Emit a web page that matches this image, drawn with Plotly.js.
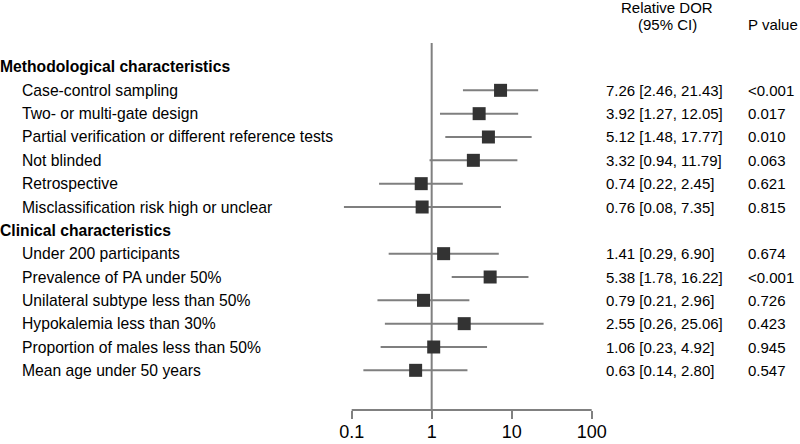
<!DOCTYPE html>
<html>
<head>
<meta charset="utf-8">
<script src="https://cdn.plot.ly/plotly-3.0.1.min.js"></script>
<style>html,body{margin:0;padding:0;background:#fff}#chart{width:800px;height:444px}</style>
</head>
<body>
<div id="chart"></div>
<script>
var groupNames = ["Methodological characteristics", "Clinical characteristics"];
var methodLabels = ["Case-control sampling", "Two- or multi-gate design", "Partial verification or different reference tests", "Not blinded", "Retrospective", "Misclassification risk high or unclear"];
var clinicalLabels = ["Under 200 participants", "Prevalence of PA under 50%", "Unilateral subtype less than 50%", "Hypokalemia less than 30%", "Proportion of males less than 50%", "Mean age under 50 years"];
var methodEst = [7.26, 3.92, 5.12, 3.32, 0.74, 0.76];
var methodLo = [2.46, 1.27, 1.48, 0.94, 0.22, 0.08];
var methodHi = [21.43, 12.05, 17.77, 11.79, 2.45, 7.35];
var methodP = ["<0.001", "0.017", "0.010", "0.063", "0.621", "0.815"];
var clinicalEst = [1.41, 5.38, 0.79, 2.55, 1.06, 0.63];
var clinicalLo = [0.29, 1.78, 0.21, 0.26, 0.23, 0.14];
var clinicalHi = [6.90, 16.22, 2.96, 25.06, 4.92, 2.80];
var clinicalP = ["0.674", "<0.001", "0.726", "0.423", "0.945", "0.547"];
var tickVals = [0.1, 1, 10, 100];
var tickLabels = ["0.1", "1", "10", "100"];

var groups = [
  {name: groupNames[0], labels: methodLabels, est: methodEst, lo: methodLo, hi: methodHi, p: methodP},
  {name: groupNames[1], labels: clinicalLabels, est: clinicalEst, lo: clinicalLo, hi: clinicalHi, p: clinicalP}
];

var FONT = "Liberation Sans, Arial, sans-serif";
var px = function(v){ return v / 800; };
var xs = [], ys = [], eplus = [], eminus = [];
var annotations = [];
var row = 0;
groups.forEach(function(g){
  annotations.push({xref:'paper', yref:'y', x:px(-2), y:row, xanchor:'left', yanchor:'middle', showarrow:false,
    text:'<b>'+g.name+'</b>', font:{family:FONT, size:15.7, color:'#000'}});
  row++;
  g.labels.forEach(function(lab, i){
    xs.push(g.est[i]); ys.push(row);
    eplus.push(g.hi[i] - g.est[i]); eminus.push(g.est[i] - g.lo[i]);
    annotations.push({xref:'paper', yref:'y', x:px(20), y:row, xanchor:'left', yanchor:'middle', showarrow:false,
      text:lab, font:{family:FONT, size:15.7, color:'#000'}});
    annotations.push({xref:'paper', yref:'y', x:px(604), y:row, xanchor:'left', yanchor:'middle', showarrow:false,
      text:g.est[i].toFixed(2)+' ['+g.lo[i].toFixed(2)+', '+g.hi[i].toFixed(2)+']', font:{family:FONT, size:15, color:'#000'}});
    annotations.push({xref:'paper', yref:'y', x:px(746), y:row, xanchor:'left', yanchor:'middle', showarrow:false,
      text:g.p[i], font:{family:FONT, size:15, color:'#000'}});
    row++;
  });
});
annotations.push({xref:'paper', yref:'y', x:px(667), y:-2.57, xanchor:'center', yanchor:'middle', showarrow:false,
  text:'Relative DOR', font:{family:FONT, size:15, color:'#000'}});
annotations.push({xref:'paper', yref:'y', x:px(667), y:-1.8, xanchor:'center', yanchor:'middle', showarrow:false,
  text:'(95% CI)', font:{family:FONT, size:15, color:'#000'}});
annotations.push({xref:'paper', yref:'y', x:px(746), y:-1.8, xanchor:'left', yanchor:'middle', showarrow:false,
  text:'P value', font:{family:FONT, size:15, color:'#000'}});

var trace = {
  type:'scatter', mode:'markers', x:xs, y:ys,
  marker:{symbol:'square', size:13, color:'#333333'},
  error_x:{type:'data', symmetric:false, array:eplus, arrayminus:eminus, color:'#7f7f7f', thickness:2, width:0},
  hoverinfo:'skip', cliponaxis:false
};

var layout = {
  width:800, height:444,
  margin:{l:0, r:0, t:0, b:34, pad:0},
  paper_bgcolor:'#fff', plot_bgcolor:'#fff',
  showlegend:false,
  xaxis:{type:'log', range:[-5.396, 4.604], showgrid:false, zeroline:false, showline:false,
    tickmode:'array', tickvals:tickVals, ticktext:tickLabels, ticks:'outside', ticklen:8, tickwidth:2, tickcolor:'#808080',
    ticklabelstandoff:-3,
    tickfont:{family:FONT, size:18, color:'#000'}, fixedrange:true},
  yaxis:{range:[14.70, -2.871], showgrid:false, zeroline:false, showline:false, showticklabels:false, ticks:'', fixedrange:true},
  shapes:[
    {type:'line', xref:'x', yref:'y', x0:1, x1:1, y0:-1.03, y1:14.70, line:{color:'#808080', width:2}, layer:'below'},
    {type:'line', xref:'x', yref:'paper', x0:tickVals[0], x1:tickVals[tickVals.length-1], y0:0, y1:0, line:{color:'#808080', width:2}, layer:'below'}
  ],
  annotations:annotations
};
Plotly.newPlot('chart', [trace], layout, {displayModeBar:false, staticPlot:true});
</script>
</body>
</html>
